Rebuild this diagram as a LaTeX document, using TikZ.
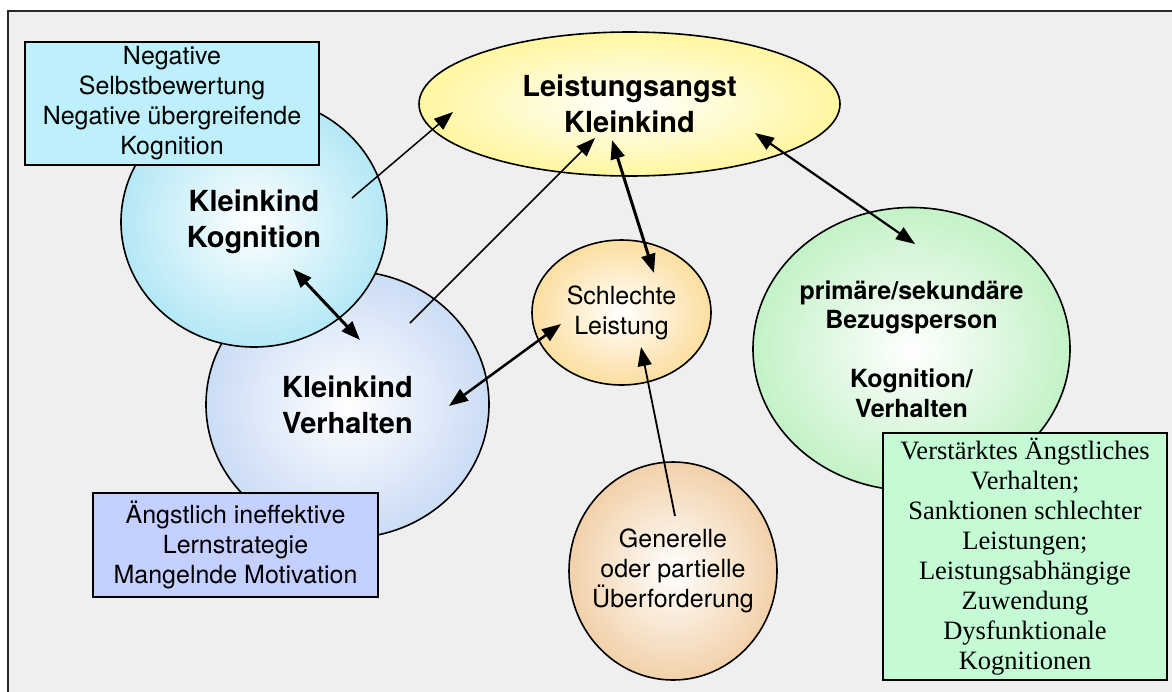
\documentclass[tikz,border=0pt]{standalone}
\usepackage{fontspec}
\setmainfont{TeX Gyre Heros}
\newfontfamily\boxserif{Liberation Serif}
\usepackage{xcolor}
\usetikzlibrary{shapes.geometric,arrows.meta,positioning}

\definecolor{panelbg}{RGB}{239,239,239}
\definecolor{framegray}{RGB}{40,40,40}
\definecolor{kognC}{RGB}{140,220,240}
\definecolor{verhC}{RGB}{176,202,240}
\definecolor{angstC}{RGB}{255,242,110}
\definecolor{leistC}{RGB}{250,205,110}
\definecolor{ueberC}{RGB}{235,185,125}
\definecolor{bezugC}{RGB}{165,235,170}
\definecolor{kognboxC}{RGB}{190,240,252}
\definecolor{verhboxC}{RGB}{196,208,255}
\definecolor{bezugboxC}{RGB}{196,250,212}

% soft radial fill, white centre fading to the colour at the rim
\makeatletter
\pgfdeclareradialshading[tikz@radial@inner,tikz@radial@outer]{softball}{\pgfpointorigin}{color(0bp)=(tikz@radial@inner); color(38bp)=(tikz@radial@outer); color(50bp)=(tikz@radial@outer)}
\makeatother

\begin{document}
\begin{tikzpicture}[x=1pt, y=-1pt,
  ball/.style={ellipse, draw=black, line width=1.6pt, inner color=white, outer color=#1, shading=softball, inner sep=-12pt, align=center},
  infobox/.style={draw=black, line width=1.8pt, rectangle, fill=#1, inner sep=0pt, align=center},
  big/.style={font=\fontsize{29}{36}\selectfont\bfseries},
  mid/.style={font=\fontsize{25}{29.5}\selectfont\bfseries},
  txt/.style={font=\fontsize{25}{30}\selectfont},
  sertxt/.style={font=\boxserif\fontsize{26.5}{30}\selectfont},
  arr/.style={-{Triangle[length=19pt,width=14pt]}, line width=1.5pt},
  darr/.style={{Triangle[length=19pt,width=14pt]}-{Triangle[length=19pt,width=14pt]}, line width=#1},
  darr/.default=2.5pt
]

\useasboundingbox[fill=white] (0,0) rectangle (1172,691);
\draw[fill=panelbg, draw=framegray, line width=2.5pt] (8,11) rectangle (1190,710);

% circles
\node[ball=verhC, big, minimum width=283pt, minimum height=267pt] (verh) at (347.5,404.5) {Kleinkind\\Verhalten};
\node[ball=kognC, big, minimum width=266pt, minimum height=250pt] (kogn) at (254,222) {Kleinkind\\Kognition};
\node[ball=angstC, big, minimum width=421pt, minimum height=144pt] (angst) at (629.5,104) {Leistungsangst\\Kleinkind};
\node[ball=leistC, txt, minimum width=179pt, minimum height=145pt] (leist) at (621.5,312.5) {Schlechte\\Leistung};
\node[ball=ueberC, txt, minimum width=208pt, minimum height=218pt] (ueber) at (673,571) {Generelle\\oder partielle\\Überforderung};
\node[ball=bezugC, mid, minimum width=317pt, minimum height=283pt] (bezug) at (911.5,349) {primäre/sekundäre\\Bezugsperson\\[29.5pt]Kognition/\\Verhalten};

% boxes
\node[infobox=kognboxC, txt, minimum width=294pt, minimum height=123pt] (kognbox) at (172,103.5) {Negative\\Selbstbewertung\\Negative übergreifende\\Kognition};
\node[infobox=verhboxC, txt, minimum width=285pt, minimum height=104pt] (verhbox) at (235.5,545) {Ängstlich ineffektive\\Lernstrategie\\Mangelnde Motivation};
\node[infobox=bezugboxC, sertxt, minimum width=284pt, minimum height=247pt] (bezugbox) at (1025,556.5) {Verstärktes Ängstliches\\Verhalten;\\Sanktionen schlechter\\Leistungen;\\Leistungsabhängige\\Zuwendung\\Dysfunktionale\\Kognitionen};

% connectors
\draw[arr] ([shift={(98,-24)}]kogn.center) -- ([shift={(-176.5,8)}]angst.center);
\draw[arr] ([shift={(62.5,-81.5)}]verh.center) -- ([shift={(-34.5,34)}]angst.center);
\draw[darr=3pt] ([shift={(-17.5,36)}]angst.center) -- ([shift={(32.5,-39.5)}]leist.center);
\draw[darr=2.2pt] ([shift={(125.5,29)}]angst.center) -- ([shift={(3.5,-105)}]bezug.center);
\draw[darr=3pt] ([shift={(39,47)}]kogn.center) -- ([shift={(12.5,-64.5)}]verh.center);
\draw[darr=2.5pt] ([shift={(101.5,1.5)}]verh.center) -- ([shift={(-60.5,11.5)}]leist.center);
\draw[arr, line width=1.8pt] ([shift={(2,-55)}]ueber.center) -- ([shift={(19.5,34.5)}]leist.center);

\end{tikzpicture}
\end{document}
